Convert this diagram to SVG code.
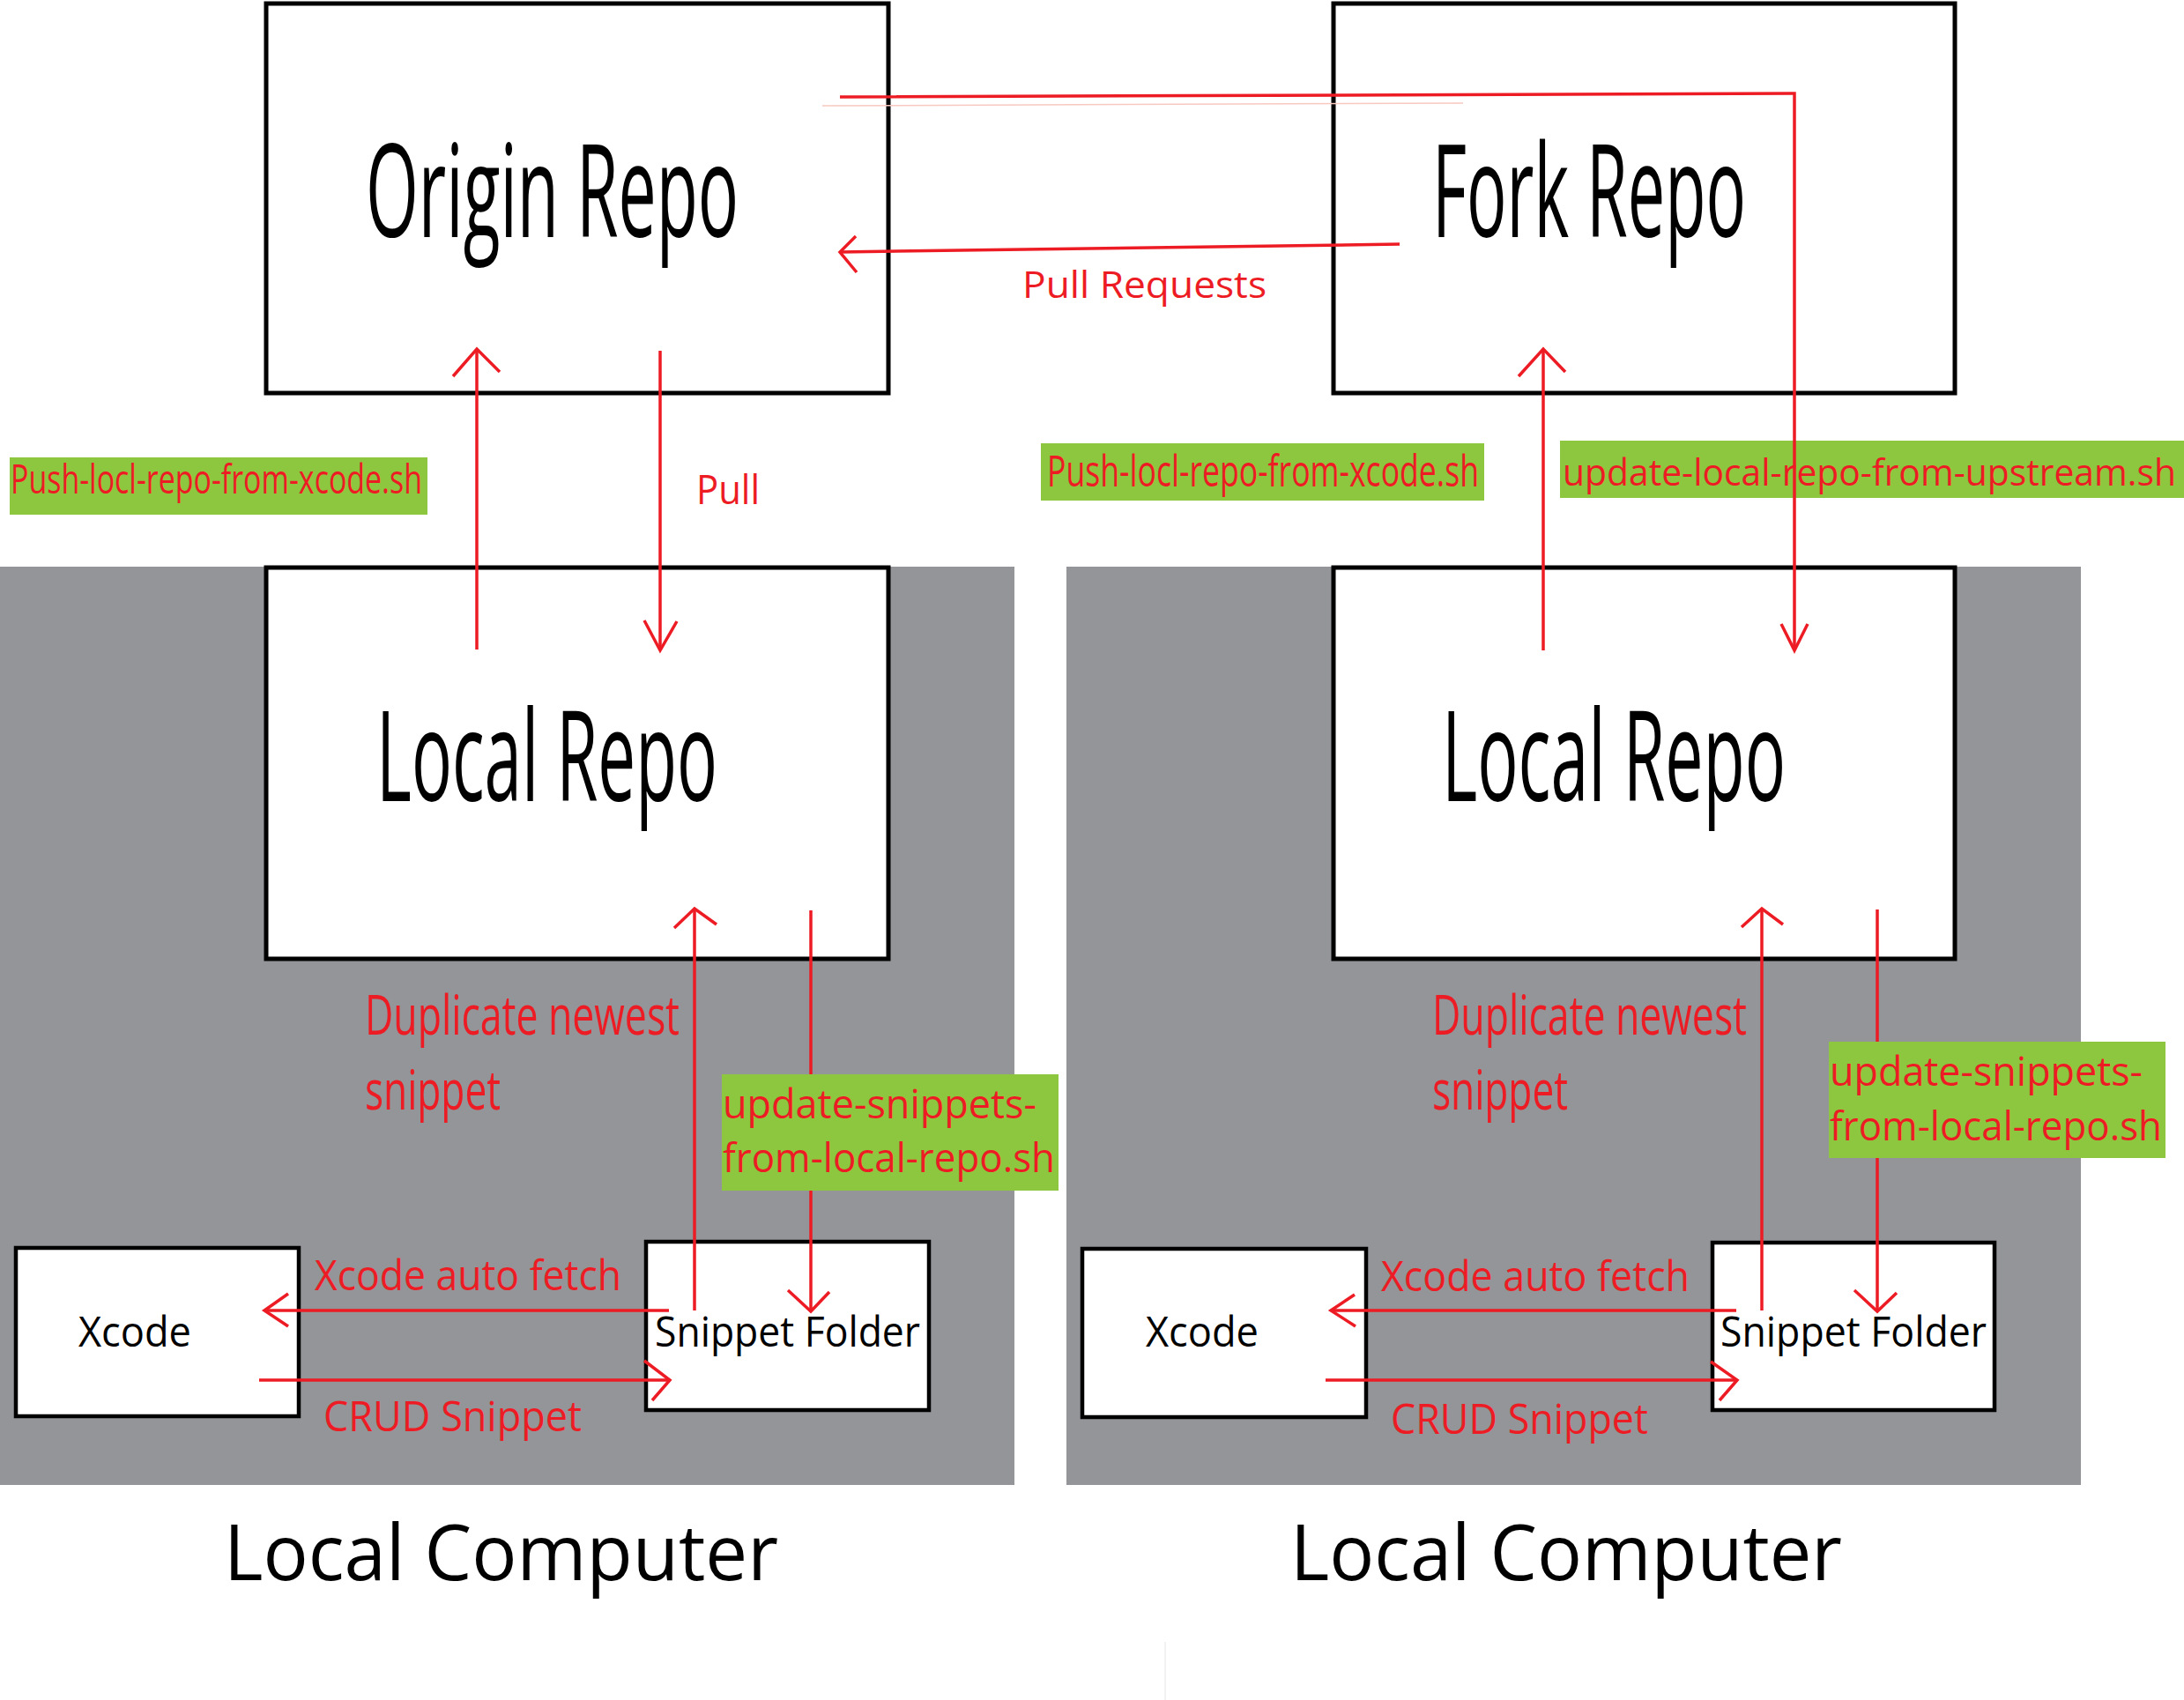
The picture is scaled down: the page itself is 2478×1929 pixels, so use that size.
<svg xmlns="http://www.w3.org/2000/svg" width="2478" height="1929" viewBox="0 0 2478 1929">
<style>
text{font-family:"Open Sans","Liberation Sans",sans-serif}
.box{fill:#fff;stroke:#000;stroke-width:5}
.sbox{fill:#fff;stroke:#000;stroke-width:4.5}
.bg{fill:#939598}
.c{fill:none;stroke:#ED1C24;stroke-width:3.5;stroke-linejoin:miter}
.r{fill:#ED1C24}
.k{fill:#000}
.g{fill:#8DC63F}
</style>
<rect width="2478" height="1929" fill="#fff"/>
<g id="computer-left">
<rect class="bg" x="0" y="643" width="1151" height="1042"/>
<text class="k" x="254" y="1793" font-size="88" textLength="629" lengthAdjust="spacingAndGlyphs">Local Computer</text>
</g>
<g id="computer-right">
<rect class="bg" x="1210" y="643" width="1151" height="1042"/>
<text class="k" x="1464" y="1793" font-size="88" textLength="626" lengthAdjust="spacingAndGlyphs">Local Computer</text>
</g>
<line x1="1322" y1="1863" x2="1322" y2="1929" stroke="#eeeeee" stroke-width="1.5"/>
<g id="origin-repo">
<rect class="box" x="302" y="4" width="706" height="442"/>
<text class="k" x="415" y="269" font-size="147" textLength="423" lengthAdjust="spacingAndGlyphs">Origin Repo</text>
</g>
<g id="fork-repo">
<rect class="box" x="1513" y="4" width="705" height="442"/>
<text class="k" x="1625" y="269" font-size="147" textLength="356" lengthAdjust="spacingAndGlyphs">Fork Repo</text>
</g>
<g id="local-repo-left">
<rect class="box" x="302" y="644" width="706" height="444"/>
<text class="k" x="427" y="909" font-size="143" textLength="387" lengthAdjust="spacingAndGlyphs">Local Repo</text>
</g>
<g id="local-repo-right">
<rect class="box" x="1513" y="644" width="705" height="444"/>
<text class="k" x="1636" y="909" font-size="143" textLength="390" lengthAdjust="spacingAndGlyphs">Local Repo</text>
</g>
<g id="xcode-left">
<rect class="sbox" x="18" y="1416" width="321" height="191"/>
<text class="k" x="89" y="1528" font-size="47" textLength="128" lengthAdjust="spacingAndGlyphs">Xcode</text>
</g>
<g id="snippet-folder-left">
<rect class="sbox" x="733" y="1409" width="321" height="191"/>
<text class="k" x="743" y="1528" font-size="47" textLength="301" lengthAdjust="spacingAndGlyphs">Snippet Folder</text>
</g>
<g id="xcode-right">
<rect class="sbox" x="1228" y="1417" width="322" height="191"/>
<text class="k" x="1300" y="1528" font-size="47" textLength="128" lengthAdjust="spacingAndGlyphs">Xcode</text>
</g>
<g id="snippet-folder-right">
<rect class="sbox" x="1943" y="1410" width="320" height="190"/>
<text class="k" x="1952" y="1528" font-size="47" textLength="302" lengthAdjust="spacingAndGlyphs">Snippet Folder</text>
</g>
<g id="label-push-left">
<rect class="g" x="11" y="519" width="474" height="65"/>
<text class="r" x="12" y="560" font-size="46" textLength="467" lengthAdjust="spacingAndGlyphs">Push-locl-repo-from-xcode.sh</text>
</g>
<g id="label-push-right">
<rect class="g" x="1181" y="503" width="503" height="65"/>
<text class="r" x="1188" y="552" font-size="49" textLength="490" lengthAdjust="spacingAndGlyphs">Push-locl-repo-from-xcode.sh</text>
</g>
<g id="label-update-upstream">
<rect class="g" x="1770" y="500" width="708" height="65"/>
<text class="r" x="1773" y="551" font-size="42" textLength="696" lengthAdjust="spacingAndGlyphs">update-local-repo-from-upstream.sh</text>
</g>
<g id="label-update-snippets-left">
<rect class="g" x="819" y="1219" width="382" height="132"/>
<text class="r" x="820" y="1269" font-size="45" textLength="356" lengthAdjust="spacingAndGlyphs">update-snippets-</text>
<text class="r" x="820" y="1330" font-size="45" textLength="377" lengthAdjust="spacingAndGlyphs">from-local-repo.sh</text>
</g>
<g id="label-update-snippets-right">
<rect class="g" x="2075" y="1182" width="382" height="132"/>
<text class="r" x="2076" y="1232" font-size="45" textLength="355" lengthAdjust="spacingAndGlyphs">update-snippets-</text>
<text class="r" x="2076" y="1294" font-size="45" textLength="377" lengthAdjust="spacingAndGlyphs">from-local-repo.sh</text>
</g>
<g id="labels">
<text class="r" x="1160" y="338" font-size="42" textLength="277" lengthAdjust="spacingAndGlyphs">Pull Requests</text>
<text class="r" x="790" y="572" font-size="45" textLength="72" lengthAdjust="spacingAndGlyphs">Pull</text>
<text class="r" x="414" y="1174" font-size="63" textLength="357" lengthAdjust="spacingAndGlyphs">Duplicate newest</text>
<text class="r" x="414" y="1259" font-size="63" textLength="154" lengthAdjust="spacingAndGlyphs">snippet</text>
<text class="r" x="1625" y="1174" font-size="63" textLength="357" lengthAdjust="spacingAndGlyphs">Duplicate newest</text>
<text class="r" x="1625" y="1259" font-size="63" textLength="154" lengthAdjust="spacingAndGlyphs">snippet</text>
<text class="r" x="357" y="1464" font-size="47" textLength="348" lengthAdjust="spacingAndGlyphs">Xcode auto fetch</text>
<text class="r" x="367" y="1624" font-size="47" textLength="293" lengthAdjust="spacingAndGlyphs">CRUD Snippet</text>
<text class="r" x="1567" y="1465" font-size="47" textLength="350" lengthAdjust="spacingAndGlyphs">Xcode auto fetch</text>
<text class="r" x="1578" y="1627" font-size="47" textLength="292" lengthAdjust="spacingAndGlyphs">CRUD Snippet</text>
</g>
<g id="connectors">
<line x1="933" y1="120" x2="1660" y2="117" stroke="#f7c9c0" stroke-width="1.5"/>
<!-- push left -->
<line class="c" x1="541" y1="737" x2="541" y2="396"/>
<polyline class="c" points="514,427 541,396 567,422"/>
<!-- pull left -->
<line class="c" x1="749" y1="398" x2="749" y2="738"/>
<polyline class="c" points="731,704 749,738 768,705"/>
<!-- push right -->
<line class="c" x1="1751" y1="738" x2="1751" y2="396"/>
<polyline class="c" points="1723,427 1751,396 1776,422"/>
<!-- upstream -->
<polyline class="c" points="953,110 2036,106 2036,738"/>
<polyline class="c" points="2021,708 2036,738 2051,708"/>
<!-- pull requests -->
<line class="c" x1="1588" y1="277" x2="953" y2="286"/>
<polyline class="c" points="971,268 953,286 972,309"/>
<!-- lower left -->
<line class="c" x1="788" y1="1487" x2="788" y2="1031"/>
<polyline class="c" points="765,1053 788,1031 813,1049"/>
<line class="c" x1="920" y1="1033" x2="920" y2="1219"/>
<line class="c" x1="920" y1="1351" x2="920" y2="1488"/>
<polyline class="c" points="894,1464 920,1488 941,1466"/>
<line class="c" x1="759" y1="1487" x2="300" y2="1487"/>
<polyline class="c" points="327,1468 300,1487 327,1505"/>
<line class="c" x1="294" y1="1566" x2="760" y2="1566"/>
<polyline class="c" points="731,1544 760,1566 740,1589"/>
<!-- lower right -->
<line class="c" x1="1999" y1="1487" x2="1999" y2="1031"/>
<polyline class="c" points="1976,1052 1999,1031 2023,1049"/>
<line class="c" x1="2130" y1="1032" x2="2130" y2="1182"/>
<line class="c" x1="2130" y1="1314" x2="2130" y2="1488"/>
<polyline class="c" points="2104,1464 2130,1488 2152,1467"/>
<line class="c" x1="1970" y1="1487" x2="1510" y2="1487"/>
<polyline class="c" points="1537,1469 1510,1487 1538,1505"/>
<line class="c" x1="1504" y1="1566" x2="1971" y2="1566"/>
<polyline class="c" points="1941,1545 1971,1566 1951,1589"/>
</g>
</svg>
